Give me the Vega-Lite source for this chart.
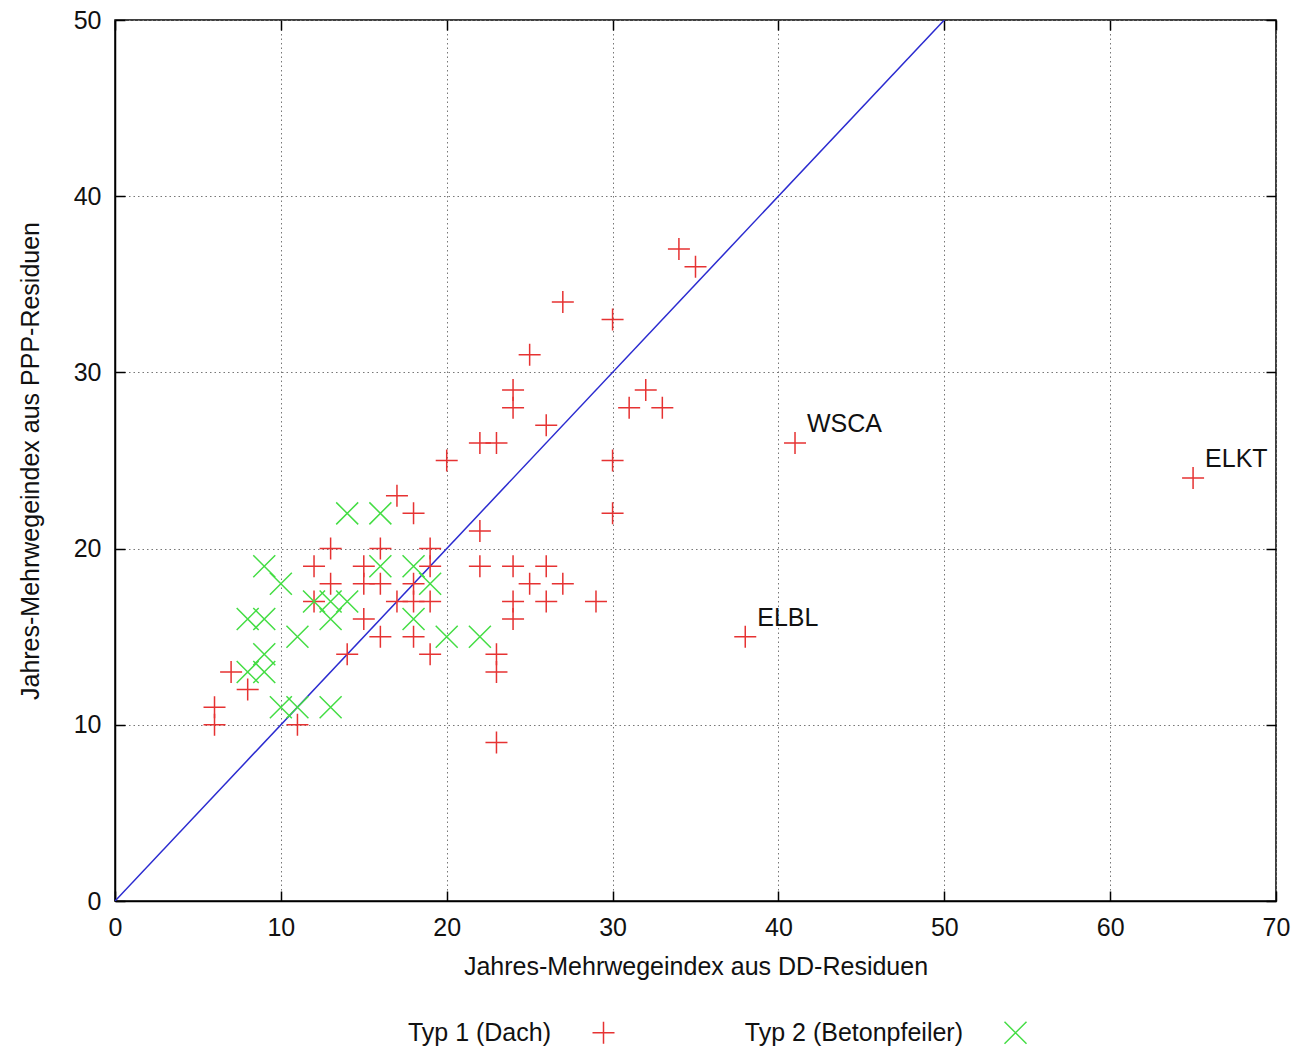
{
  "$schema": "https://vega.github.io/schema/vega-lite/v6.json",
  "width": 1161,
  "height": 881,
  "autosize": {"type": "none"},
  "padding": {"left": 115, "top": 20, "right": 22, "bottom": 152},
  "background": "white",
  "config": {
    "font": "Liberation Sans",
    "view": {"stroke": "#000", "strokeWidth": 1.5},
    "axis": {
      "labelFont": "Liberation Sans", "labelFontSize": 25, "labelColor": "#111",
      "titleFont": "Liberation Sans", "titleFontSize": 25, "titleFontWeight": "normal", "titleColor": "#111",
      "domainColor": "#000", "domainWidth": 1.5, "tickColor": "#000", "tickWidth": 1.5, "tickSize": -10,
      "gridColor": "#777", "gridDash": [1.5, 3], "gridWidth": 1, "gridOpacity": 1
    },
    "legend": {
      "labelFont": "Liberation Sans", "labelFontSize": 25, "labelColor": "#111", "labelLimit": 500
    }
  },
  "datasets": {
    "diag": [{"x": 0, "y": 0}, {"x": 50, "y": 50}],
    "pts": [
      {"x": 6, "y": 11, "typ": "Typ 1 (Dach)", "label": ""},
      {"x": 6, "y": 10, "typ": "Typ 1 (Dach)", "label": ""},
      {"x": 7, "y": 13, "typ": "Typ 1 (Dach)", "label": ""},
      {"x": 8, "y": 12, "typ": "Typ 1 (Dach)", "label": ""},
      {"x": 11, "y": 10, "typ": "Typ 1 (Dach)", "label": ""},
      {"x": 12, "y": 17, "typ": "Typ 1 (Dach)", "label": ""},
      {"x": 12, "y": 19, "typ": "Typ 1 (Dach)", "label": ""},
      {"x": 13, "y": 20, "typ": "Typ 1 (Dach)", "label": ""},
      {"x": 13, "y": 18, "typ": "Typ 1 (Dach)", "label": ""},
      {"x": 14, "y": 14, "typ": "Typ 1 (Dach)", "label": ""},
      {"x": 15, "y": 19, "typ": "Typ 1 (Dach)", "label": ""},
      {"x": 15, "y": 18, "typ": "Typ 1 (Dach)", "label": ""},
      {"x": 15, "y": 16, "typ": "Typ 1 (Dach)", "label": ""},
      {"x": 16, "y": 20, "typ": "Typ 1 (Dach)", "label": ""},
      {"x": 16, "y": 18, "typ": "Typ 1 (Dach)", "label": ""},
      {"x": 16, "y": 15, "typ": "Typ 1 (Dach)", "label": ""},
      {"x": 17, "y": 23, "typ": "Typ 1 (Dach)", "label": ""},
      {"x": 17, "y": 17, "typ": "Typ 1 (Dach)", "label": ""},
      {"x": 18, "y": 22, "typ": "Typ 1 (Dach)", "label": ""},
      {"x": 18, "y": 18, "typ": "Typ 1 (Dach)", "label": ""},
      {"x": 18, "y": 17, "typ": "Typ 1 (Dach)", "label": ""},
      {"x": 18, "y": 15, "typ": "Typ 1 (Dach)", "label": ""},
      {"x": 19, "y": 20, "typ": "Typ 1 (Dach)", "label": ""},
      {"x": 19, "y": 19, "typ": "Typ 1 (Dach)", "label": ""},
      {"x": 19, "y": 17, "typ": "Typ 1 (Dach)", "label": ""},
      {"x": 19, "y": 14, "typ": "Typ 1 (Dach)", "label": ""},
      {"x": 20, "y": 25, "typ": "Typ 1 (Dach)", "label": ""},
      {"x": 22, "y": 26, "typ": "Typ 1 (Dach)", "label": ""},
      {"x": 23, "y": 26, "typ": "Typ 1 (Dach)", "label": ""},
      {"x": 22, "y": 21, "typ": "Typ 1 (Dach)", "label": ""},
      {"x": 22, "y": 19, "typ": "Typ 1 (Dach)", "label": ""},
      {"x": 23, "y": 14, "typ": "Typ 1 (Dach)", "label": ""},
      {"x": 23, "y": 13, "typ": "Typ 1 (Dach)", "label": ""},
      {"x": 23, "y": 9, "typ": "Typ 1 (Dach)", "label": ""},
      {"x": 24, "y": 29, "typ": "Typ 1 (Dach)", "label": ""},
      {"x": 24, "y": 28, "typ": "Typ 1 (Dach)", "label": ""},
      {"x": 24, "y": 19, "typ": "Typ 1 (Dach)", "label": ""},
      {"x": 24, "y": 17, "typ": "Typ 1 (Dach)", "label": ""},
      {"x": 24, "y": 16, "typ": "Typ 1 (Dach)", "label": ""},
      {"x": 25, "y": 31, "typ": "Typ 1 (Dach)", "label": ""},
      {"x": 25, "y": 18, "typ": "Typ 1 (Dach)", "label": ""},
      {"x": 26, "y": 27, "typ": "Typ 1 (Dach)", "label": ""},
      {"x": 26, "y": 19, "typ": "Typ 1 (Dach)", "label": ""},
      {"x": 26, "y": 17, "typ": "Typ 1 (Dach)", "label": ""},
      {"x": 27, "y": 34, "typ": "Typ 1 (Dach)", "label": ""},
      {"x": 27, "y": 18, "typ": "Typ 1 (Dach)", "label": ""},
      {"x": 29, "y": 17, "typ": "Typ 1 (Dach)", "label": ""},
      {"x": 30, "y": 33, "typ": "Typ 1 (Dach)", "label": ""},
      {"x": 30, "y": 25, "typ": "Typ 1 (Dach)", "label": ""},
      {"x": 30, "y": 22, "typ": "Typ 1 (Dach)", "label": ""},
      {"x": 31, "y": 28, "typ": "Typ 1 (Dach)", "label": ""},
      {"x": 32, "y": 29, "typ": "Typ 1 (Dach)", "label": ""},
      {"x": 33, "y": 28, "typ": "Typ 1 (Dach)", "label": ""},
      {"x": 34, "y": 37, "typ": "Typ 1 (Dach)", "label": ""},
      {"x": 35, "y": 36, "typ": "Typ 1 (Dach)", "label": ""},
      {"x": 41, "y": 26, "typ": "Typ 1 (Dach)", "label": "WSCA"},
      {"x": 38, "y": 15, "typ": "Typ 1 (Dach)", "label": "ELBL"},
      {"x": 65, "y": 24, "typ": "Typ 1 (Dach)", "label": "ELKT"},
      {"x": 8, "y": 16, "typ": "Typ 2 (Betonpfeiler)", "label": ""},
      {"x": 9, "y": 16, "typ": "Typ 2 (Betonpfeiler)", "label": ""},
      {"x": 9, "y": 19, "typ": "Typ 2 (Betonpfeiler)", "label": ""},
      {"x": 10, "y": 18, "typ": "Typ 2 (Betonpfeiler)", "label": ""},
      {"x": 8, "y": 13, "typ": "Typ 2 (Betonpfeiler)", "label": ""},
      {"x": 9, "y": 13, "typ": "Typ 2 (Betonpfeiler)", "label": ""},
      {"x": 9, "y": 14, "typ": "Typ 2 (Betonpfeiler)", "label": ""},
      {"x": 10, "y": 11, "typ": "Typ 2 (Betonpfeiler)", "label": ""},
      {"x": 11, "y": 11, "typ": "Typ 2 (Betonpfeiler)", "label": ""},
      {"x": 11, "y": 15, "typ": "Typ 2 (Betonpfeiler)", "label": ""},
      {"x": 12, "y": 17, "typ": "Typ 2 (Betonpfeiler)", "label": ""},
      {"x": 13, "y": 17, "typ": "Typ 2 (Betonpfeiler)", "label": ""},
      {"x": 14, "y": 17, "typ": "Typ 2 (Betonpfeiler)", "label": ""},
      {"x": 13, "y": 16, "typ": "Typ 2 (Betonpfeiler)", "label": ""},
      {"x": 13, "y": 11, "typ": "Typ 2 (Betonpfeiler)", "label": ""},
      {"x": 14, "y": 22, "typ": "Typ 2 (Betonpfeiler)", "label": ""},
      {"x": 16, "y": 22, "typ": "Typ 2 (Betonpfeiler)", "label": ""},
      {"x": 16, "y": 19, "typ": "Typ 2 (Betonpfeiler)", "label": ""},
      {"x": 18, "y": 19, "typ": "Typ 2 (Betonpfeiler)", "label": ""},
      {"x": 19, "y": 18, "typ": "Typ 2 (Betonpfeiler)", "label": ""},
      {"x": 18, "y": 16, "typ": "Typ 2 (Betonpfeiler)", "label": ""},
      {"x": 20, "y": 15, "typ": "Typ 2 (Betonpfeiler)", "label": ""},
      {"x": 22, "y": 15, "typ": "Typ 2 (Betonpfeiler)", "label": ""}
    ]
  },
  "layer": [
    {
      "data": {"name": "diag"},
      "mark": {"type": "line", "color": "#2b2bd0", "strokeWidth": 1.5, "clip": true},
      "encoding": {
        "x": {"field": "x", "type": "quantitative",
              "scale": {"domain": [0, 70], "nice": false, "zero": false},
              "axis": {"values": [0, 10, 20, 30, 40, 50, 60, 70], "title": "Jahres-Mehrwegeindex aus DD-Residuen",
                       "grid": true, "labelPadding": 24, "titlePadding": 14, "labelFlush": false}},
        "y": {"field": "y", "type": "quantitative",
              "scale": {"domain": [0, 50], "nice": false, "zero": false},
              "axis": {"values": [0, 10, 20, 30, 40, 50], "title": "Jahres-Mehrwegeindex aus PPP-Residuen",
                       "grid": true, "labelPadding": 24, "titlePadding": 30, "labelFlush": false}}
      }
    },
    {
      "data": {"name": "diag"},
      "mark": {"type": "line", "opacity": 0},
      "encoding": {
        "x": {"field": "x", "type": "quantitative",
              "axis": {"orient": "top", "values": [0, 10, 20, 30, 40, 50, 60, 70], "labels": false, "title": null, "grid": false, "domain": false}},
        "y": {"field": "y", "type": "quantitative",
              "axis": {"orient": "right", "values": [0, 10, 20, 30, 40, 50], "labels": false, "title": null, "grid": false, "domain": false}}
      }
    },
    {
      "data": {"name": "pts"},
      "mark": {"type": "point", "filled": false, "strokeWidth": 1.5, "size": 484, "opacity": 1},
      "encoding": {
        "x": {"field": "x", "type": "quantitative", "axis": null},
        "y": {"field": "y", "type": "quantitative", "axis": null},
        "color": {"field": "typ", "type": "nominal",
                  "scale": {"domain": ["Typ 1 (Dach)", "Typ 2 (Betonpfeiler)"], "range": ["#e63232", "#44dd44"]},
                  "legend": {"title": null, "orient": "none", "direction": "horizontal", "legendX": 476, "legendY": 1000,
                             "labelAlign": "right", "labelOffset": -65, "columnPadding": 126, "symbolSize": 484, "symbolStrokeWidth": 1.5}},
        "shape": {"field": "typ", "type": "nominal",
                  "scale": {"domain": ["Typ 1 (Dach)", "Typ 2 (Betonpfeiler)"], "range": ["M-1,0L1,0M0,-1L0,1", "M-1,-1L1,1M-1,1L1,-1"]}}
      }
    },
    {
      "data": {"name": "pts"},
      "transform": [{"filter": "datum.label != ''"}],
      "mark": {"type": "text", "align": "left", "baseline": "alphabetic", "dx": 12, "dy": -11, "fontSize": 25, "color": "#111", "font": "Liberation Sans"},
      "encoding": {
        "x": {"field": "x", "type": "quantitative", "axis": null},
        "y": {"field": "y", "type": "quantitative", "axis": null},
        "text": {"field": "label"}
      }
    }
  ],
  "resolve": {"axis": {"x": "independent", "y": "independent"}}
}
